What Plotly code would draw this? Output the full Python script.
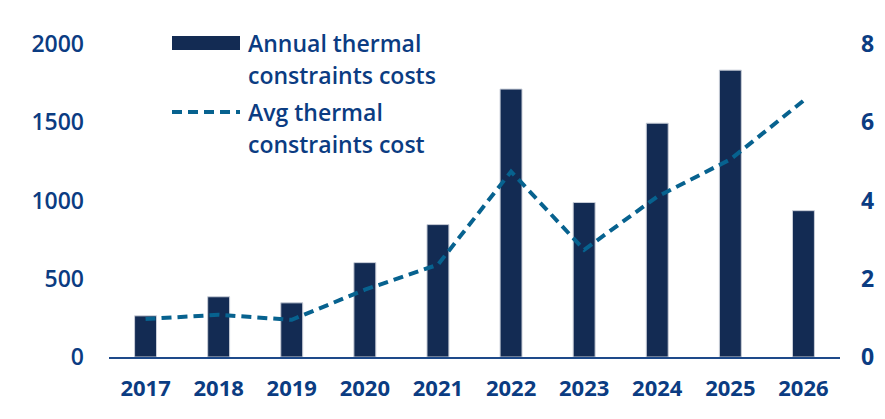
import plotly.graph_objects as go

years = ["2017", "2018", "2019", "2020", "2021", "2022", "2023", "2024", "2025", "2026"]
annual_costs = [263, 385, 346, 603, 846, 1712, 987, 1494, 1833, 935]
avg_cost = [0.97, 1.08, 0.95, 1.72, 2.36, 4.74, 2.74, 4.10, 5.05, 6.55]
left_ticks = [0, 500, 1000, 1500, 2000]
right_ticks = [0, 2, 4, 6, 8]

BAR = "#132b53"
LINE = "#07628f"
TXT = "#0b3c82"
FONT = "Open Sans"

fig = go.Figure()
fig.add_trace(go.Bar(x=years, y=annual_costs, name="Annual thermal constraints costs",
                     marker=dict(color=BAR, line=dict(color="#c9ced8", width=1)),
                     width=0.3))
fig.add_trace(go.Scatter(x=years, y=avg_cost, yaxis="y2", mode="lines",
                         name="Avg thermal constraints cost",
                         line=dict(color=LINE, width=4, dash="10px,6px")))

# plot area: x 109..840 px, y 44..357 px
W, H = 885, 419
L, R, T, B = 109, 45, 44, 62
pw, ph = W - L - R, H - T - B

def px(x):
    return (x - L) / pw

def py(y):
    return (H - B - y) / ph

shapes = [
    dict(type="rect", xref="paper", yref="paper", x0=px(172), x1=px(240), y0=py(50), y1=py(36),
         fillcolor=BAR, line=dict(width=0)),
    dict(type="line", xref="paper", yref="paper", x0=px(172), x1=px(240), y0=py(112), y1=py(112),
         line=dict(color=LINE, width=4, dash="10px,6px")),
]
ann = []
for text, y in [("Annual thermal", 43), ("constraints costs", 75),
                ("Avg thermal", 112), ("constraints cost", 144)]:
    ann.append(dict(text=text, xref="paper", yref="paper", x=px(246), y=py(y),
                    xanchor="left", yanchor="middle", showarrow=False,
                    font=dict(family=FONT, size=23, color=TXT, weight=600)))

fig.update_layout(
    width=W, height=H, margin=dict(l=L, r=R, t=T, b=B),
    plot_bgcolor="white", paper_bgcolor="white",
    showlegend=False, shapes=shapes, annotations=ann,
    font=dict(family=FONT, color=TXT),
    xaxis=dict(type="category", showgrid=False, showline=True, linecolor="#1e4a8a", linewidth=2,
               ticks="", tickfont=dict(size=22, color=TXT, family=FONT, weight="bold"),
               ticklabelstandoff=11),
    yaxis=dict(range=[0, 2000], tickvals=left_ticks, showgrid=False, zeroline=False,
               showline=False, ticks="", tickfont=dict(size=23, color=TXT, family=FONT, weight=600),
               ticklabelstandoff=24),
    yaxis2=dict(range=[0, 8], tickvals=right_ticks, overlaying="y", side="right",
                showgrid=False, zeroline=False, showline=False, ticks="",
                tickfont=dict(size=23, color=TXT, family=FONT, weight="bold"),
                ticklabelstandoff=20),
    bargap=0.7,
)

fig.write_html("out.html")
